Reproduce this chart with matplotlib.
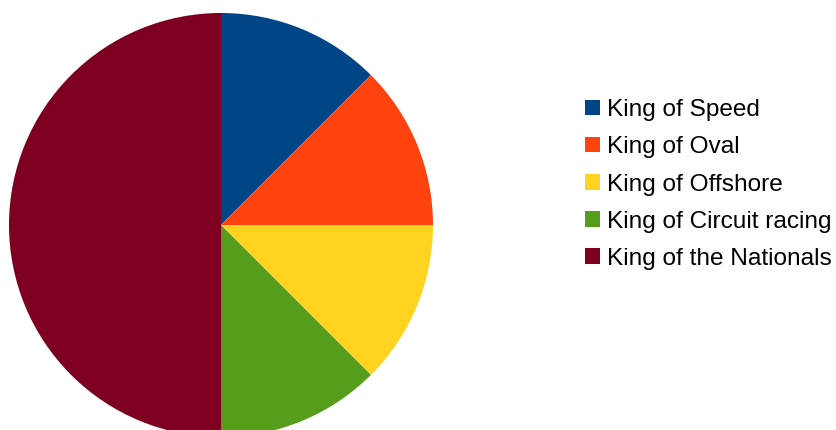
import matplotlib.pyplot as plt
from matplotlib.patches import Patch

labels = ["King of Speed", "King of Oval", "King of Offshore",
          "King of Circuit racing", "King of the Nationals"]
values = [1, 1, 1, 1, 4]
colors = ["#004586", "#ff420e", "#ffd320", "#579d1c", "#7e0021"]


def main() -> None:
    plt.rcParams["font.family"] = ["Liberation Sans", "DejaVu Sans"]
    W, H = 837, 430
    fig = plt.figure(figsize=(W / 100, H / 100), dpi=100)

    # pie circle: x 9..433, y 13..437 (px from top)
    ax = fig.add_axes([9 / W, (H - 437) / H, 424 / W, 424 / H])
    ax.pie(values, colors=colors, startangle=90, counterclock=False,
           radius=1, wedgeprops={"linewidth": 0})
    ax.set_xlim(-1, 1)
    ax.set_ylim(-1, 1)
    ax.set_aspect("equal")
    ax.axis("off")

    handles = [Patch(facecolor=c, edgecolor="none") for c in colors]
    fig.legend(handles, labels, loc="center left",
               bbox_to_anchor=(585 / W, (H - 184.5) / H),
               frameon=False, fontsize=17.6, borderpad=0, borderaxespad=0,
               handlelength=0.6, handleheight=0.6, handletextpad=0.3,
               labelspacing=0.62)

    fig.savefig("out.png", dpi=100)


if __name__ == "__main__":
    main()
